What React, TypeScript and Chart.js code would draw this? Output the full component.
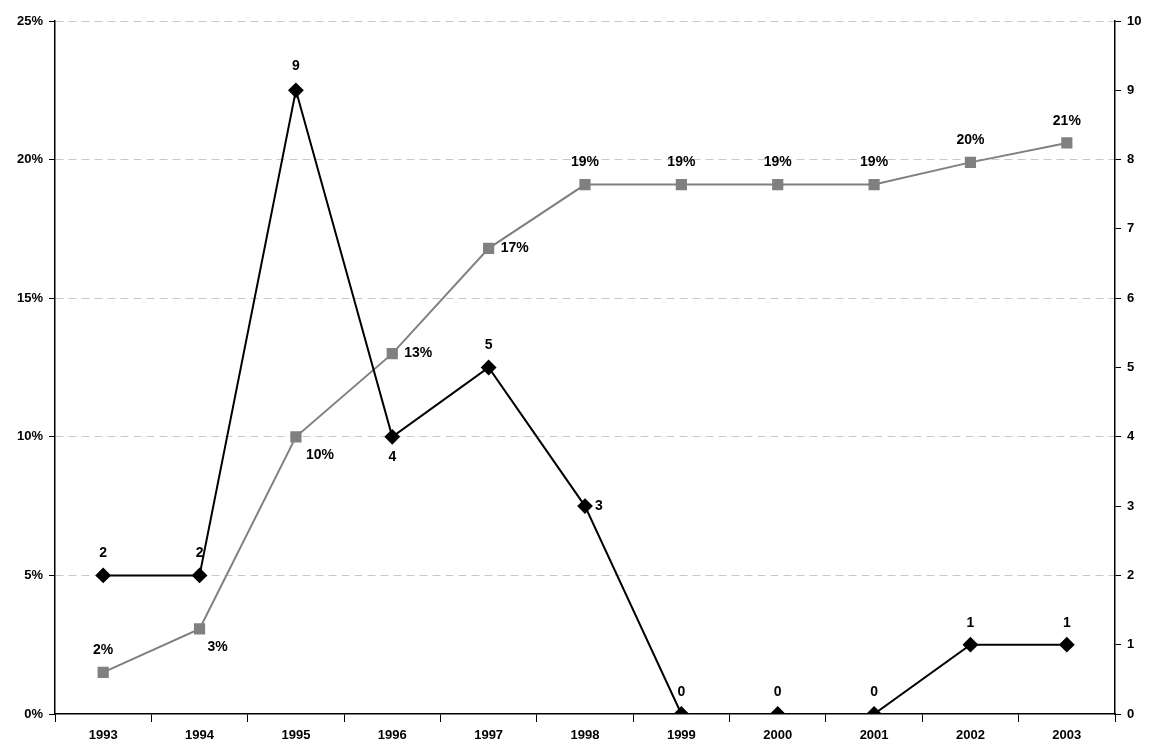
import { useEffect, useRef } from "react";
import { Chart, registerables } from "chart.js";
Chart.register(...registerables);

const years = ["1993","1994","1995","1996","1997","1998","1999","2000","2001","2002","2003"];
const counts = [2, 2, 9, 4, 5, 3, 0, 0, 0, 1, 1];
const shares = [1.5, 3.07, 10.0, 13.0, 16.8, 19.1, 19.1, 19.1, 19.1, 19.9, 20.6];
const shareLabels = ["2%","3%","10%","13%","17%","19%","19%","19%","19%","20%","21%"];
const countOff = [[0,-22],[0,-22],[0,-24],[0,20],[0,-22],[14,0],[0,-22],[0,-22],[0,-22],[0,-22],[0,-22]];
const shareOff = [[0,-22],[18,18],[24,18],[26,0],[26,0],[0,-22],[0,-22],[0,-22],[0,-22],[0,-22],[0,-22]];
const FONT = "Arial, 'Liberation Sans'";

export default function App() {
  const ref = useRef<HTMLCanvasElement>(null);
  useEffect(() => {
    const labelPlugin = {
      id: "lbl",
      afterDatasetsDraw(chart: any) {
        const ctx = chart.ctx;
        ctx.save();
        ctx.font = "bold 14px " + FONT;
        ctx.fillStyle = "#000";
        ctx.textAlign = "center";
        ctx.textBaseline = "middle";
        chart.getDatasetMeta(0).data.forEach((p: any, i: number) => {
          ctx.fillText(String(counts[i]), p.x + countOff[i][0], p.y + countOff[i][1]);
        });
        chart.getDatasetMeta(1).data.forEach((p: any, i: number) => {
          ctx.fillText(shareLabels[i], p.x + shareOff[i][0], p.y + shareOff[i][1]);
        });
        ctx.restore();
      },
    };
    const tickFont = { family: FONT, size: 13, weight: "bold" as const };
    const c = new Chart(ref.current!, {
      type: "line",
      data: {
        labels: years,
        datasets: [
          { data: counts, yAxisID: "y1", borderColor: "#000", backgroundColor: "#000", borderWidth: 2,
            pointStyle: "rectRot", pointRadius: 6.5, pointHoverRadius: 6.5, tension: 0 },
          { data: shares, yAxisID: "y", borderColor: "#808080", backgroundColor: "#808080", borderWidth: 2,
            pointStyle: "rect", pointRadius: 6.5, pointHoverRadius: 6.5, tension: 0 },
        ],
      },
      options: {
        animation: false,
        responsive: false,
        layout: { padding: { top: 21, right: 4, left: 4, bottom: 0 } },
        plugins: { legend: { display: false }, tooltip: { enabled: false } },
        scales: {
          x: {
            offset: true,
            afterFit: (s: any) => { s.height = 35; },
            grid: { display: true, drawOnChartArea: false, offset: true, color: "#000", tickLength: 8 },
            border: { color: "#000", width: 1.5 },
            ticks: { color: "#000", font: tickFont, padding: 6 },
          },
          y: {
            position: "left", min: 0, max: 25,
            afterFit: (s: any) => { s.width = 51; },
            ticks: { stepSize: 5, color: "#000", callback: (v: any) => v + "%", font: tickFont, padding: 6 },
            grid: { color: (c: any) => (c.tick.value === 0 ? "rgba(0,0,0,0)" : "#c8c8c8"), tickColor: "#000", tickLength: 6 },
            border: { color: "#000", width: 1.5, dash: [8, 5] },
          },
          y1: {
            position: "right", min: 0, max: 10,
            afterFit: (s: any) => { s.width = 37; },
            ticks: { stepSize: 1, color: "#000", font: tickFont, padding: 6 },
            grid: { drawOnChartArea: false, color: "#000", tickLength: 6 },
            border: { color: "#000", width: 1.5 },
          },
        },
      },
      plugins: [labelPlugin],
    });
    return () => c.destroy();
  }, []);
  return (
    <div style={{ position: "fixed", left: 0, top: 0 }}>
      <canvas ref={ref} width={1156} height={749} style={{ width: 1156, height: 749 }} />
    </div>
  );
}
